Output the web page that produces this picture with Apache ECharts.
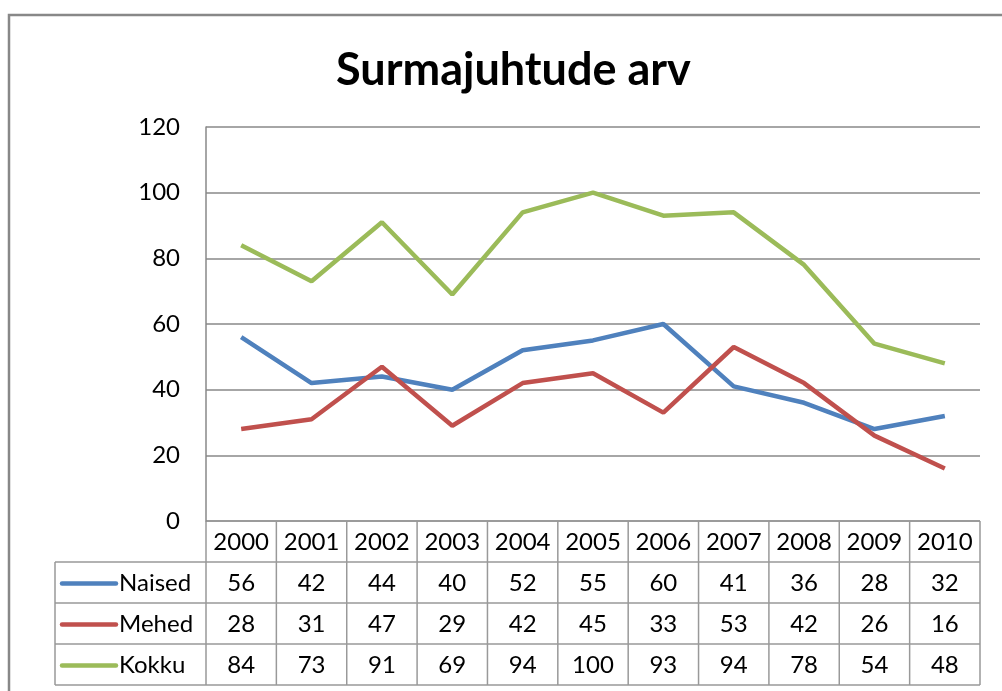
<!DOCTYPE html>
<html>
<head>
<meta charset="utf-8">
<script src="https://cdn.jsdelivr.net/npm/echarts@6/dist/echarts.min.js"></script>
<style>
  html, body { margin: 0; padding: 0; background: #fff; }
  #chart { width: 1002px; height: 691px; }
</style>
</head>
<body>
<div id="chart"></div>
<script>
// data
const years = ['2000', '2001', '2002', '2003', '2004', '2005', '2006', '2007', '2008', '2009', '2010'];
const naised = [56, 42, 44, 40, 52, 55, 60, 41, 36, 28, 32];
const mehed = [28, 31, 47, 29, 42, 45, 33, 53, 42, 26, 16];
const kokku = [84, 73, 91, 69, 94, 100, 93, 94, 78, 54, 48];
const yTicks = [0, 20, 40, 60, 80, 100, 120];

const rows = [
  { name: 'Naised', data: naised, color: '#4F81BD' },
  { name: 'Mehed', data: mehed, color: '#C0504D' },
  { name: 'Kokku', data: kokku, color: '#9BBB59' }
];

const FONT = 'Lato, "Liberation Sans", sans-serif';
const chart = echarts.init(document.getElementById('chart'));

chart.setOption({
  animation: false,
  title: {
    text: 'Surmajuhtude arv',
    left: 331,
    top: 43,
    textStyle: { fontFamily: FONT, fontSize: 45, fontWeight: 'bold', color: '#000' }
  },
  grid: { left: 206, right: 22, top: 127, bottom: 170 },
  xAxis: {
    type: 'category',
    data: years,
    boundaryGap: true,
    axisLine: { show: false },
    axisTick: { show: false },
    axisLabel: { show: false }
  },
  yAxis: {
    type: 'value',
    min: yTicks[0],
    max: yTicks[yTicks.length - 1],
    interval: 20,
    axisLine: { show: true, lineStyle: { color: '#888', width: 1.5 } },
    axisTick: { show: false },
    axisLabel: { margin: 26, fontFamily: FONT, fontSize: 24, color: '#000' },
    splitLine: { lineStyle: { color: '#888', width: 1.5 } }
  },
  series: rows.map(r => ({
    name: r.name,
    type: 'line',
    data: r.data,
    showSymbol: false,
    symbol: 'none',
    lineStyle: { color: r.color, width: 4.5 },
    itemStyle: { color: r.color }
  }))
});

// data table under the plot, placed from the axis positions
function drawTable() {
  const xa = chart.convertToPixel({ xAxisIndex: 0 }, 0);
  const xb = chart.convertToPixel({ xAxisIndex: 0 }, 1);
  const band = xb - xa;
  const left = xa - band / 2;
  const right = left + band * years.length;
  const top = chart.convertToPixel({ yAxisIndex: 0 }, 0);
  const rowH = 41;
  const labelLeft = 55;
  const bottom = top + rowH * (rows.length + 1);
  const lineStyle = { stroke: '#999', lineWidth: 1.5 };
  const textFont = '24px ' + FONT;
  const els = [];

  // outer frame of the whole chart
  els.push({ type: 'rect', shape: { x: 9, y: 15, width: 1200, height: 1000 },
    style: { fill: null, stroke: '#888', lineWidth: 2.5 }, silent: true });

  // horizontal lines
  els.push({ type: 'line', shape: { x1: left, y1: top, x2: right, y2: top }, style: lineStyle });
  for (let r = 1; r <= rows.length + 1; r++) {
    const y = top + r * rowH;
    els.push({ type: 'line', shape: { x1: labelLeft, y1: y, x2: right, y2: y }, style: lineStyle });
  }
  // vertical lines
  for (let c = 0; c <= years.length; c++) {
    const x = left + c * band;
    els.push({ type: 'line', shape: { x1: x, y1: top, x2: x, y2: bottom }, style: lineStyle });
  }
  els.push({ type: 'line', shape: { x1: labelLeft, y1: top + rowH, x2: labelLeft, y2: bottom }, style: lineStyle });

  // header
  years.forEach((yr, i) => {
    els.push({ type: 'text', style: { text: yr, x: chart.convertToPixel({ xAxisIndex: 0 }, i), y: top + rowH / 2 + 1,
      textAlign: 'center', textVerticalAlign: 'middle', font: textFont, fill: '#000' } });
  });

  // rows
  rows.forEach((r, ri) => {
    const cy = top + rowH * (ri + 1) + rowH / 2 + 1;
    els.push({ type: 'line', shape: { x1: 62, y1: cy, x2: 116, y2: cy },
      style: { stroke: r.color, lineWidth: 4.5, lineCap: 'round' } });
    els.push({ type: 'text', style: { text: r.name, x: 119, y: cy,
      textAlign: 'left', textVerticalAlign: 'middle', font: textFont, fill: '#000' } });
    r.data.forEach((v, i) => {
      els.push({ type: 'text', style: { text: String(v), x: chart.convertToPixel({ xAxisIndex: 0 }, i), y: cy,
        textAlign: 'center', textVerticalAlign: 'middle', font: textFont, fill: '#000' } });
    });
  });

  chart.setOption({ graphic: { elements: els } });
}
drawTable();
</script>
</body>
</html>
